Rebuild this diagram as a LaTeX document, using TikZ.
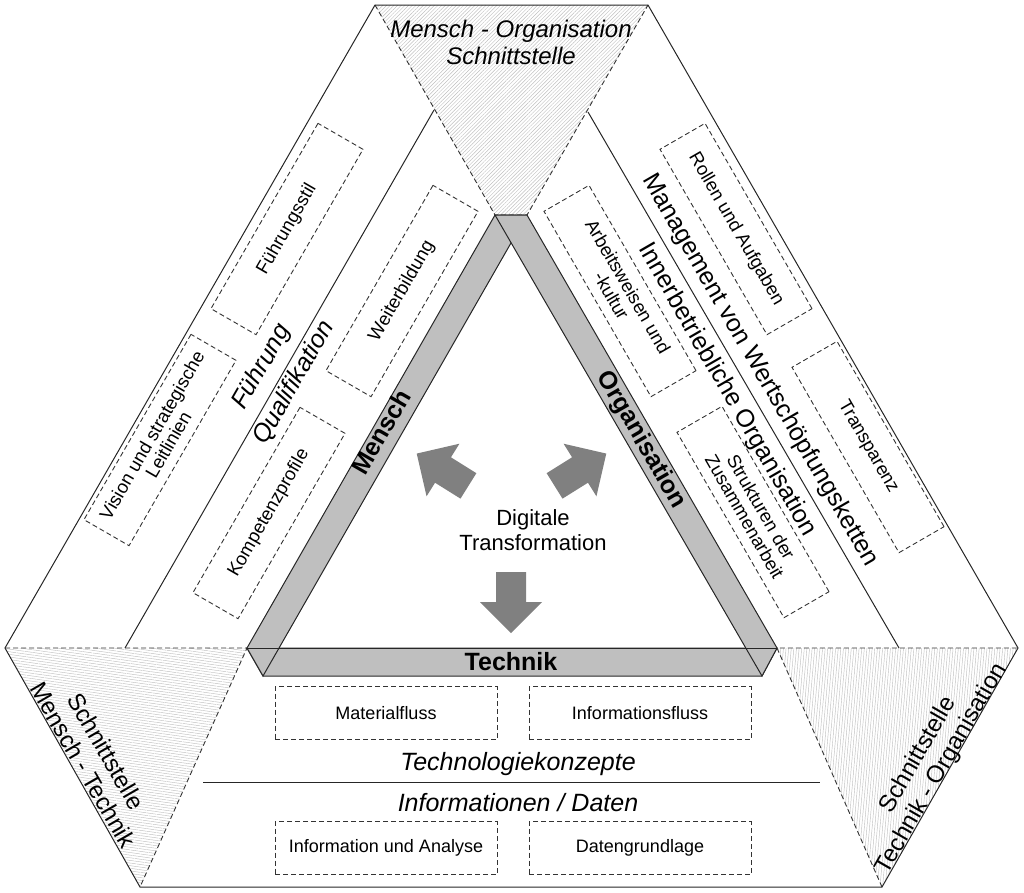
\documentclass[tikz,border=0pt]{standalone}
\usepackage{fontspec}
\setmainfont{Liberation Sans}
\usetikzlibrary{patterns.meta}
\begin{document}
\begin{tikzpicture}[x=1pt,y=-1pt,
  line/.style={draw=black!85,line width=1pt},
  dsh/.style={draw=black!80,dash pattern=on 5pt off 3pt,line width=0.9pt},
  band/.style={fill=black!25,draw=black!85,line width=1pt},
  box/.style={draw=black!80,dash pattern=on 5pt off 3pt,line width=0.9pt,minimum width=214pt,minimum height=52pt,inner sep=2pt,align=center,font=\fontsize{18.5}{19}\selectfont},
  hbox/.style={draw=black!80,dash pattern=on 5pt off 3pt,line width=0.9pt,minimum width=222pt,minimum height=53pt,font=\fontsize{18}{20}\selectfont},
  big/.style={font=\fontsize{25}{28}\selectfont},
  ibig/.style={font=\itshape\fontsize{25}{28}\selectfont},
  bar/.style={font=\bfseries\fontsize{25}{28}\selectfont},
  corner/.style={font=\fontsize{24}{27}\selectfont,align=center},
  hatch/.style={pattern color=black!25},
  arr/.style={fill=black!50}]
\useasboundingbox (0,0) rectangle (1024,892);
% coordinates
\coordinate (h1) at (375,5); \coordinate (h2) at (648,5);
\coordinate (h3) at (1018,648); \coordinate (h4) at (882,887);
\coordinate (h5) at (140,887); \coordinate (h6) at (5,648);
\coordinate (ta) at (495,215); \coordinate (tb) at (527,215);
\coordinate (bl) at (247,648); \coordinate (bl2) at (263,676);
\coordinate (br) at (777,648); \coordinate (br2) at (762,676);
% hatched areas
\path[hatch,pattern={Lines[angle=45,distance=2.6pt,line width=0.45pt]}] (h1)--(h2)--(tb)--(ta)--cycle;
\path[hatch,pattern={Lines[angle=-8,distance=2.6pt,line width=0.45pt]}] (h6)--(bl)--(h5)--cycle;
\path[hatch,pattern={Lines[angle=85,distance=2.6pt,line width=0.45pt]}] (br)--(h3)--(h4)--cycle;
\draw[dsh] (h1)--(ta)--(tb)--(h2);
\draw[dsh] (h6)--(bl)--(h5);
\draw[dsh] (h4)--(br)--(h3);
% outer hexagon
\draw[line] (h1)--(h2)--(h3)--(h4)--(h5)--(h6)--cycle;
% inner lines
\coordinate (l1) at (434,110); \coordinate (l2) at (125,648);
\coordinate (r1) at (588,112); \coordinate (r2) at (899,648);
\coordinate (m1) at (203,782); \coordinate (m2) at (820,782);
\draw[line] (l1)--(l2); \draw[line] (r1)--(r2); \draw[line] (m1)--(m2);
% bands
\draw[band] (bl)--(br)--(br2)--(bl2)--cycle;
\draw[band] (ta)--(tb)--(bl2)--(bl)--cycle;
\draw[band] (ta)--(tb)--(br)--(br2)--cycle;
\draw[line] (bl)--(br);
% labels on bands
\node[bar,rotate=60] (mensch) at (381,432) {Mensch};
\node[bar,rotate=-60] (orga) at (641,440) {Organisation};
\node[bar] (technik) at (511,662) {Technik};
% left boxes
\node[box,rotate=60] (fstil) at (287,229) {Führungsstil};
\node[box,rotate=60] (vision) at (160,440) {Vision und strategische\\Leitlinien};
\node[box,rotate=60] (weiter) at (402,291) {Weiterbildung};
\node[box,rotate=60] (kompe) at (269,513) {Kompetenzprofile};
\node[ibig,rotate=60] (fuehrung) at (262,367) {Führung};
\node[ibig,rotate=60] (quali) at (294,383) {Qualifikation};
% right boxes
\node[box,rotate=-60] (rollen) at (736,229) {Rollen und Aufgaben};
\node[box,rotate=-60] (arbeit) at (620,291) {Arbeitsweisen und\\-kultur};
\node[box,rotate=-60] (transp) at (868,447) {Transparenz};
\node[box,rotate=-60] (strukt) at (753,512) {Strukturen der\\Zusammenarbeit};
\node[big,rotate=-60] (mgmt) at (760,370) {Management von Wertschöpfungsketten};
\node[big,rotate=-60] (inner) at (727,390) {Innerbetriebliche Organisation};
% bottom boxes
\node[hbox] (mat) at (386,713) {Materialfluss};
\node[hbox] (inf) at (640,713) {Informationsfluss};
\node[hbox] (ina) at (386,848) {Information und Analyse};
\node[hbox] (dat) at (640,848) {Datengrundlage};
\node[ibig] (tk) at (518,764) {Technologiekonzepte};
\node[ibig] (id) at (518,803) {Informationen / Daten};
% corner labels
\node[corner,font=\itshape\fontsize{24}{27}\selectfont] (mo) at (511,42) {Mensch - Organisation\\Schnittstelle};
\node[corner,rotate=-60] (mt) at (95,758) {Schnittstelle\\Mensch - Technik};
\node[corner,rotate=60] (to) at (930,762) {Schnittstelle\\Technik - Organisation};
% center
\node[font=\fontsize{22}{25}\selectfont,align=center] (dt) at (533,530) {Digitale\\Transformation};
\fill[arr] [shift={(511,602)},rotate=-90] (-30,-15)--(0,-15)--(0,-31)--(31,0)--(0,31)--(0,15)--(-30,15)--cycle;
\fill[arr] [shift={(443,470)},rotate=148] (-30,-15)--(0,-15)--(0,-31)--(31,0)--(0,31)--(0,15)--(-30,15)--cycle;
\fill[arr] [shift={(580,470)},rotate=32] (-30,-15)--(0,-15)--(0,-31)--(31,0)--(0,31)--(0,15)--(-30,15)--cycle;
\end{tikzpicture}
\end{document}
